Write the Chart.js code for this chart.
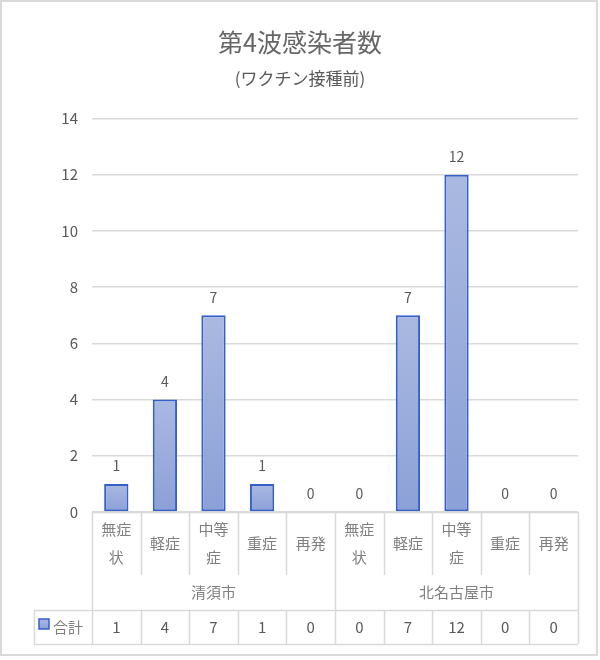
<!DOCTYPE html>
<html lang="ja">
<head>
<meta charset="utf-8">
<script src="https://cdn.jsdelivr.net/npm/chart.js@4/dist/chart.umd.min.js"></script>
<style>
  html, body { margin: 0; padding: 0; background: #fff; }
  #wrap { width: 600px; height: 660px; position: relative; }
</style>
</head>
<body>
<div id="wrap"><canvas id="waveChart"></canvas></div>
<script>
// Chart data
const titleText = "第4波感染者数";
const subtitleText = "(ワクチン接種前)";
const categoryLines = [
  ["無症", "状"], ["軽症"], ["中等", "症"], ["重症"], ["再発"],
  ["無症", "状"], ["軽症"], ["中等", "症"], ["重症"], ["再発"]
];
const groups = ["清須市", "北名古屋市"];
const groupSize = 5;
const seriesName = "合計";
const totals = [1, 4, 7, 1, 0, 0, 7, 12, 0, 0];
const yMax = 14;
const yStep = 2;

const FONT = "'Noto Sans CJK JP', 'Noto Sans', sans-serif";
const TEXT = "#595959";
const TEXT_LIGHT = "#7F7F7F";
const LINE = "#D9D9D9";
const BAR_TOP = "#AAB9E1";
const BAR_BOTTOM = "#8BA0D7";
const BAR_EDGE = "#3560C8";

function barFill(context) {
  const chart = context.chart;
  if (!chart.chartArea) return BAR_TOP;
  const y = chart.scales.y;
  const top = y.getPixelForValue(context.raw);
  const bottom = y.getPixelForValue(0);
  if (bottom - top < 1) return BAR_TOP;
  const g = chart.ctx.createLinearGradient(0, top, 0, bottom);
  g.addColorStop(0, BAR_TOP);
  g.addColorStop(1, BAR_BOTTOM);
  return g;
}

// white background + light frame
const framePlugin = {
  id: "frame",
  beforeDraw(chart) {
    const ctx = chart.ctx;
    ctx.save();
    ctx.fillStyle = "#fff";
    ctx.fillRect(0, 0, chart.width, chart.height);
    ctx.strokeStyle = LINE;
    ctx.lineWidth = 2;
    ctx.strokeRect(1, 1, 596, 654);
    ctx.restore();
  }
};

// value labels above the bars
const valueLabels = {
  id: "valueLabels",
  afterDatasetsDraw(chart) {
    const ctx = chart.ctx;
    const meta = chart.getDatasetMeta(0);
    ctx.save();
    ctx.font = "14px " + FONT;
    ctx.fillStyle = TEXT;
    ctx.textAlign = "center";
    ctx.textBaseline = "middle";
    meta.data.forEach((bar, i) => {
      ctx.fillText(String(totals[i]), bar.x, bar.y - 18);
    });
    ctx.restore();
  }
};

// data table under the plot (categories, groups, values)
const dataTable = {
  id: "dataTable",
  afterDraw(chart) {
    const ctx = chart.ctx;
    const x = chart.scales.x;
    const base = chart.chartArea.bottom;
    const n = totals.length;
    const w = (x.right - x.left) / n;
    const catBottom = base + 63;
    const rowTop = base + 98;
    const rowBottom = base + 132;
    const tableLeft = 34;
    const px = v => Math.round(v) + 0.5;

    ctx.save();
    ctx.strokeStyle = LINE;
    ctx.lineWidth = 1.5;
    ctx.beginPath();
    // horizontal lines
    ctx.moveTo(x.left, px(base)); ctx.lineTo(x.right, px(base));
    ctx.moveTo(tableLeft, px(rowTop)); ctx.lineTo(x.right, px(rowTop));
    ctx.moveTo(tableLeft, px(rowBottom)); ctx.lineTo(x.right, px(rowBottom));
    // vertical lines
    ctx.moveTo(px(tableLeft), rowTop); ctx.lineTo(px(tableLeft), rowBottom);
    for (let i = 0; i <= n; i++) {
      const xx = px(x.left + i * w);
      if (i === 0 || i === n || i % groupSize === 0) {
        ctx.moveTo(xx, base); ctx.lineTo(xx, rowBottom);
      } else {
        ctx.moveTo(xx, base); ctx.lineTo(xx, catBottom);
        ctx.moveTo(xx, rowTop); ctx.lineTo(xx, rowBottom);
      }
    }
    ctx.stroke();

    ctx.font = "15px " + FONT;
    ctx.fillStyle = TEXT_LIGHT;
    ctx.textAlign = "center";
    ctx.textBaseline = "middle";
    categoryLines.forEach((lines, i) => {
      const cx = x.getPixelForValue(i);
      if (lines.length === 1) {
        ctx.fillText(lines[0], cx, base + 31);
      } else {
        ctx.fillText(lines[0], cx, base + 17);
        ctx.fillText(lines[1], cx, base + 45);
      }
    });
    groups.forEach((g, k) => {
      const cx = x.left + (k * groupSize + groupSize / 2) * w;
      ctx.fillText(g, cx, base + 80);
    });
    ctx.fillStyle = TEXT;
    totals.forEach((v, i) => {
      ctx.fillText(String(v), x.getPixelForValue(i), base + 115);
    });

    // legend key + series name
    const kx = 39, ky = base + 107;
    const g = ctx.createLinearGradient(0, ky, 0, ky + 10);
    g.addColorStop(0, BAR_TOP);
    g.addColorStop(1, BAR_BOTTOM);
    ctx.fillStyle = g;
    ctx.fillRect(kx, ky, 10, 10);
    ctx.strokeStyle = BAR_EDGE;
    ctx.lineWidth = 1.5;
    ctx.strokeRect(kx, ky, 10, 10);
    ctx.fillStyle = TEXT_LIGHT;
    ctx.textAlign = "left";
    ctx.fillText(seriesName, 53, base + 115);
    ctx.restore();
  }
};

new Chart(document.getElementById("waveChart"), {
  type: "bar",
  data: {
    labels: categoryLines.map(l => l.join("")),
    datasets: [
      {
        label: seriesName,
        data: totals,
        backgroundColor: barFill,
        borderColor: BAR_EDGE,
        borderWidth: 2,
        borderSkipped: false,
        barPercentage: 0.5,
        categoryPercentage: 1
      }
    ]
  },
  options: {
    responsive: true,
    maintainAspectRatio: false,
    animation: false,
    layout: {
      padding: { top: 0, left: 22, right: 22, bottom: 148 }
    },
    plugins: {
      legend: { display: false },
      tooltip: { enabled: false },
      title: {
        display: true,
        text: titleText,
        color: "#666666",
        font: { family: FONT, size: 25, weight: "normal" },
        padding: { top: 27, bottom: 3 }
      },
      subtitle: {
        display: true,
        text: subtitleText,
        color: TEXT,
        font: { family: FONT, size: 17, weight: "normal" },
        padding: { top: 8, bottom: 30 }
      }
    },
    scales: {
      x: {
        display: false
      },
      y: {
        min: 0,
        max: yMax,
        afterFit(scale) {
          scale.width = 70;
        },
        border: { display: false },
        grid: { color: LINE, lineWidth: 1.5, drawTicks: false },
        ticks: {
          stepSize: yStep,
          padding: 14,
          color: TEXT,
          font: { family: FONT, size: 15 }
        }
      }
    }
  },
  plugins: [framePlugin, valueLabels, dataTable]
});
</script>
</body>
</html>
